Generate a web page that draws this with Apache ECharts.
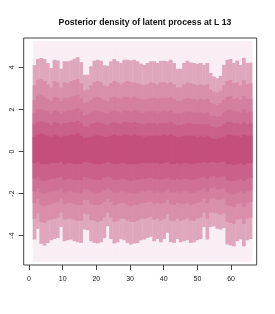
<!DOCTYPE html>
<html><head><meta charset="utf-8">
<script src="https://cdn.jsdelivr.net/npm/echarts@6/dist/echarts.min.js"></script>
<style>html,body{margin:0;padding:0;background:#fff}#c{width:275px;height:314px}</style>
</head><body><div id="c"></div>
<script>
const titleText = 'Posterior density of latent process at L 13';
const xTickLabels = [0, 10, 20, 30, 40, 50, 60];
const yTickLabels = [-4, -2, 0, 2, 4];
const nCols = 66;
const xFirst = 1.1, xLast = 66.2;
const densityRange = [-5.25, 5.25];

const hiL1 = [4.12,4.40,4.45,4.40,4.21,3.97,4.37,4.33,3.94,4.29,4.29,
  4.33,4.41,4.49,4.25,3.65,3.65,4.05,4.32,4.37,4.32,4.10,
  4.08,4.29,4.40,4.29,4.21,4.37,4.37,4.33,4.37,4.29,4.18,
  4.12,4.21,4.29,4.29,4.21,4.32,4.32,4.29,4.37,4.21,3.94,
  3.94,4.21,4.32,4.24,4.21,4.18,4.21,4.12,4.21,3.73,3.57,
  3.49,3.60,4.12,4.37,4.40,4.21,4.33,4.12,4.45,4.21,4.24];
const loL1 = [-4.19,-3.68,-4.39,-4.47,-4.35,-4.22,-4.16,-4.11,-3.59,-4.27,-4.22,
  -4.19,-4.27,-4.32,-4.35,-3.71,-3.75,-4.27,-4.35,-4.38,-4.32,-4.11,
  -3.56,-4.16,-4.38,-4.32,-4.16,-4.22,-4.35,-4.43,-4.38,-4.35,-4.22,
  -4.19,-4.11,-4.06,-4.27,-4.16,-4.32,-4.16,-3.87,-4.32,-4.35,-4.16,
  -4.32,-4.27,-4.22,-4.35,-4.32,-4.22,-4.16,-3.59,-4.19,-3.59,-3.56,
  -3.68,-3.71,-3.64,-4.43,-4.47,-4.51,-4.27,-4.19,-4.51,-4.22,-4.16];
const hiL2 = [3.15,3.40,3.45,3.35,3.20,3.05,3.35,3.30,3.05,3.30,3.25,
  3.35,3.40,3.45,3.25,2.90,2.95,3.15,3.30,3.35,3.30,3.15,
  3.10,3.25,3.35,3.30,3.20,3.30,3.35,3.30,3.30,3.25,3.20,
  3.15,3.20,3.30,3.25,3.20,3.30,3.30,3.25,3.30,3.20,3.05,
  3.05,3.20,3.30,3.25,3.20,3.15,3.20,3.15,3.20,2.95,2.85,
  2.80,2.90,3.15,3.35,3.40,3.25,3.30,3.15,3.40,3.20,3.25];
const loL2 = [-3.20,-2.95,-3.35,-3.40,-3.30,-3.25,-3.20,-3.15,-2.90,-3.25,-3.20,
  -3.20,-3.25,-3.30,-3.30,-2.95,-3.00,-3.25,-3.30,-3.35,-3.30,-3.15,
  -2.90,-3.15,-3.35,-3.30,-3.20,-3.20,-3.30,-3.35,-3.35,-3.30,-3.20,
  -3.20,-3.15,-3.10,-3.25,-3.20,-3.30,-3.20,-3.00,-3.30,-3.30,-3.20,
  -3.30,-3.25,-3.20,-3.30,-3.30,-3.20,-3.15,-2.90,-3.20,-2.90,-2.90,
  -2.95,-3.00,-2.95,-3.35,-3.40,-3.45,-3.25,-3.20,-3.45,-3.20,-3.15];
const hiL3 = [2.45,2.65,2.70,2.60,2.50,2.40,2.60,2.55,2.40,2.55,2.55,
  2.60,2.65,2.70,2.55,2.30,2.35,2.45,2.55,2.60,2.55,2.45,
  2.40,2.55,2.60,2.55,2.50,2.60,2.60,2.55,2.60,2.55,2.50,
  2.45,2.50,2.55,2.55,2.50,2.55,2.55,2.55,2.60,2.50,2.40,
  2.40,2.50,2.55,2.50,2.50,2.45,2.50,2.45,2.50,2.30,2.25,
  2.20,2.30,2.45,2.60,2.65,2.50,2.55,2.45,2.65,2.50,2.50];
const loL3 = [-2.45,-2.25,-2.55,-2.60,-2.55,-2.50,-2.45,-2.40,-2.25,-2.50,-2.45,
  -2.45,-2.50,-2.55,-2.55,-2.30,-2.30,-2.50,-2.55,-2.55,-2.50,-2.40,
  -2.25,-2.40,-2.55,-2.50,-2.45,-2.45,-2.55,-2.60,-2.55,-2.55,-2.45,
  -2.45,-2.40,-2.40,-2.50,-2.45,-2.50,-2.45,-2.30,-2.50,-2.55,-2.45,
  -2.50,-2.50,-2.45,-2.55,-2.50,-2.45,-2.40,-2.25,-2.45,-2.25,-2.20,
  -2.30,-2.30,-2.25,-2.55,-2.60,-2.65,-2.50,-2.45,-2.65,-2.45,-2.40];
const hiL4 = [1.85,2.00,2.00,1.95,1.90,1.80,1.95,1.90,1.80,1.90,1.95,
  1.95,2.00,2.05,1.90,1.70,1.75,1.85,1.95,1.95,1.90,1.85,
  1.80,1.90,1.95,1.90,1.85,1.95,1.95,1.90,1.95,1.90,1.85,
  1.85,1.90,1.90,1.90,1.85,1.90,1.95,1.90,1.95,1.85,1.80,
  1.80,1.85,1.90,1.90,1.85,1.85,1.85,1.80,1.85,1.70,1.70,
  1.65,1.70,1.85,1.95,2.00,1.90,1.90,1.85,2.00,1.85,1.90];
const loL4 = [-1.90,-1.75,-1.95,-2.00,-1.95,-1.90,-1.90,-1.85,-1.75,-1.95,-1.90,
  -1.90,-1.95,-1.95,-2.00,-1.80,-1.80,-1.90,-1.95,-2.00,-1.95,-1.85,
  -1.75,-1.85,-1.95,-1.95,-1.90,-1.90,-1.95,-2.00,-2.00,-1.95,-1.90,
  -1.90,-1.85,-1.85,-1.95,-1.90,-1.95,-1.90,-1.80,-1.95,-1.95,-1.90,
  -1.95,-1.90,-1.90,-1.95,-1.95,-1.90,-1.85,-1.75,-1.90,-1.75,-1.70,
  -1.80,-1.80,-1.75,-1.95,-2.00,-2.05,-1.95,-1.90,-2.00,-1.90,-1.85];
const hiL5 = [1.30,1.40,1.45,1.40,1.35,1.25,1.40,1.35,1.25,1.35,1.35,
  1.40,1.40,1.45,1.35,1.20,1.20,1.30,1.35,1.40,1.35,1.30,
  1.25,1.35,1.40,1.35,1.30,1.40,1.40,1.35,1.40,1.35,1.30,
  1.30,1.35,1.35,1.35,1.30,1.35,1.35,1.35,1.40,1.30,1.25,
  1.25,1.30,1.35,1.35,1.30,1.30,1.30,1.30,1.30,1.20,1.15,
  1.15,1.20,1.30,1.40,1.40,1.35,1.35,1.30,1.40,1.30,1.35];
const loL5 = [-1.30,-1.20,-1.35,-1.40,-1.35,-1.30,-1.30,-1.25,-1.20,-1.35,-1.30,
  -1.30,-1.35,-1.35,-1.35,-1.20,-1.25,-1.30,-1.35,-1.35,-1.35,-1.25,
  -1.20,-1.25,-1.35,-1.35,-1.30,-1.30,-1.35,-1.40,-1.35,-1.35,-1.30,
  -1.30,-1.25,-1.25,-1.30,-1.30,-1.35,-1.30,-1.25,-1.35,-1.35,-1.30,
  -1.35,-1.30,-1.30,-1.35,-1.35,-1.30,-1.25,-1.20,-1.30,-1.20,-1.15,
  -1.25,-1.20,-1.20,-1.35,-1.40,-1.40,-1.35,-1.30,-1.40,-1.30,-1.25];
const hiL6 = [0.70,0.80,0.85,0.80,0.75,0.70,0.80,0.75,0.70,0.75,0.75,
  0.80,0.80,0.85,0.75,0.65,0.65,0.70,0.75,0.80,0.75,0.70,
  0.70,0.75,0.80,0.75,0.75,0.80,0.80,0.75,0.80,0.75,0.75,
  0.70,0.75,0.75,0.75,0.75,0.75,0.80,0.75,0.80,0.75,0.70,
  0.70,0.75,0.75,0.75,0.75,0.70,0.75,0.70,0.75,0.65,0.60,
  0.60,0.65,0.70,0.80,0.80,0.75,0.75,0.70,0.80,0.75,0.75];
const loL6 = [-0.55,-0.50,-0.60,-0.60,-0.60,-0.55,-0.55,-0.55,-0.50,-0.60,-0.55,
  -0.55,-0.60,-0.60,-0.60,-0.50,-0.50,-0.55,-0.60,-0.60,-0.60,-0.55,
  -0.50,-0.55,-0.60,-0.60,-0.55,-0.55,-0.60,-0.60,-0.60,-0.60,-0.55,
  -0.55,-0.55,-0.55,-0.55,-0.55,-0.60,-0.55,-0.50,-0.60,-0.60,-0.55,
  -0.60,-0.55,-0.55,-0.60,-0.60,-0.55,-0.55,-0.50,-0.55,-0.50,-0.50,
  -0.55,-0.50,-0.50,-0.60,-0.60,-0.65,-0.60,-0.55,-0.65,-0.55,-0.55];

const levelColors = ['#f9eef3', '#dfa7be', '#d98fac', '#d47fa0', '#cf7096', '#ca618b', '#c44e7c'];

const cellW = (xLast - xFirst) / nCols;
const bands = [
  [Array(nCols).fill(densityRange[0]), Array(nCols).fill(densityRange[1])],
  [loL1, hiL1], [loL2, hiL2], [loL3, hiL3], [loL4, hiL4], [loL5, hiL5], [loL6, hiL6]
];

const series = bands.map((b, k) => ({
  type: 'custom',
  silent: true,
  animation: false,
  clip: true,
  data: b[0].map((lo, i) => [xFirst + i * cellW, xFirst + (i + 1) * cellW, lo, b[1][i]]),
  encode: { x: [0, 1], y: [2, 3] },
  renderItem: function (params, api) {
    const p0 = api.coord([api.value(0), api.value(3)]);
    const p1 = api.coord([api.value(1), api.value(2)]);
    return {
      type: 'rect',
      shape: { x: p0[0], y: p0[1], width: p1[0] - p0[0] + 0.4, height: p1[1] - p0[1] },
      style: { fill: levelColors[k] }
    };
  }
}));

const chart = echarts.init(document.getElementById('c'), null, { renderer: 'canvas' });
chart.setOption({
  animation: false,
  backgroundColor: '#ffffff',
  title: {
    text: titleText, left: 140, top: 13, textAlign: 'center',
    textStyle: { fontFamily: 'Liberation Sans', fontSize: 8.7, fontWeight: 'bold', color: '#111' }
  },
  grid: { left: 23.7, right: 18.3, top: 38, bottom: 49, show: true, borderColor: '#444', borderWidth: 1, backgroundColor: 'transparent' },
  xAxis: {
    type: 'value', min: -1.57, max: 67.6,
    axisLine: { show: false, onZero: false },
    axisTick: { show: true, length: 5, customValues: xTickLabels, lineStyle: { color: '#444' } },
    axisLabel: { customValues: xTickLabels, fontFamily: 'Liberation Sans', fontSize: 7, color: '#222', margin: 11 },
    splitLine: { show: false }
  },
  yAxis: {
    type: 'value', min: -5.4, max: 5.4,
    axisLine: { show: false, onZero: false },
    axisTick: { show: true, length: 5, customValues: yTickLabels, lineStyle: { color: '#444' } },
    axisLabel: { customValues: yTickLabels, rotate: 90, fontFamily: 'Liberation Sans', fontSize: 7, color: '#222', margin: 8 },
    splitLine: { show: false }
  },
  series: series
});
</script></body></html>
